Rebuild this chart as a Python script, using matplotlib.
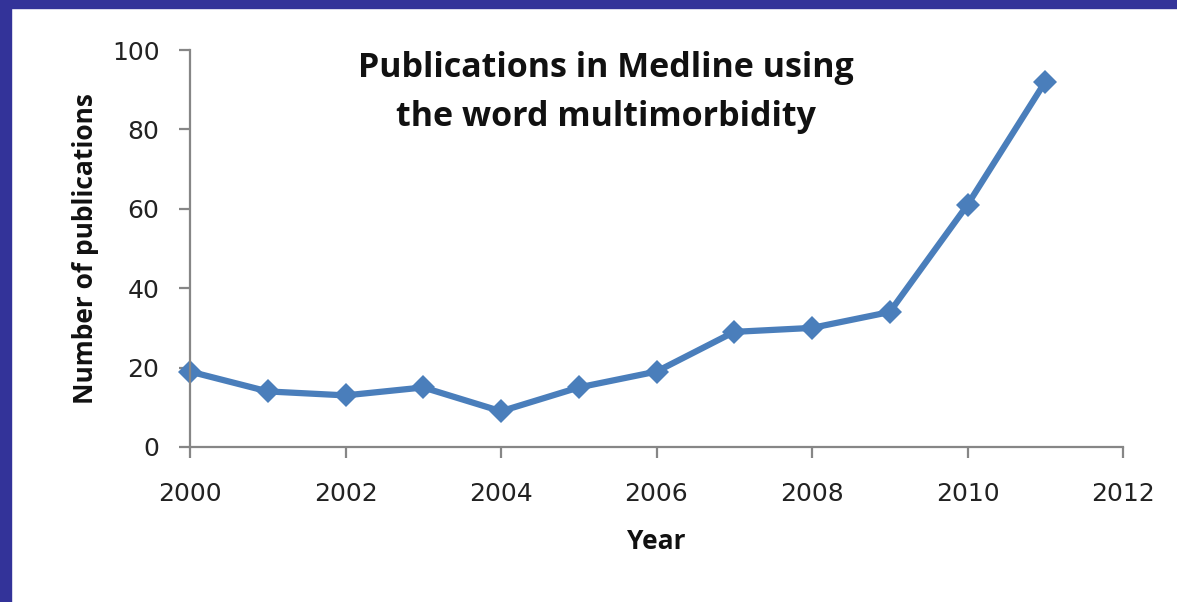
import matplotlib
matplotlib.use("Agg")
import matplotlib.pyplot as plt
from matplotlib.patches import Rectangle

# publications per year
years = [2000, 2001, 2002, 2003, 2004, 2005, 2006, 2007, 2008, 2009, 2010, 2011]
pubs = [19, 14, 13, 15, 9, 15, 19, 29, 30, 34, 61, 92]

x_ticks = [2000, 2002, 2004, 2006, 2008, 2010, 2012]
y_ticks = [0, 20, 40, 60, 80, 100]

LINE_COLOR = '#4a7ebb'
AXIS_COLOR = '#868686'
FRAME_COLOR = '#333399'

plt.rcParams['font.family'] = ['DejaVu Sans']

fig = plt.figure(figsize=(11.77, 6.02), dpi=100)
ax = fig.add_axes([190/1177, 155/602, 933/1177, 397/602])

ax.plot(years, pubs, color=LINE_COLOR, linewidth=4.5,
        marker='D', markersize=12, markeredgewidth=0, clip_on=False)

ax.set_xlim(2000, 2012)
ax.set_ylim(0, 100)
ax.set_xticks(x_ticks)
ax.set_yticks(y_ticks)

for side in ['top', 'right']:
    ax.spines[side].set_visible(False)
for side in ['left', 'bottom']:
    ax.spines[side].set_color(AXIS_COLOR)
    ax.spines[side].set_linewidth(1.6)

ax.tick_params(axis='both', direction='out', length=8, width=1.6,
               color=AXIS_COLOR, labelsize=18, labelcolor='#222222', pad=14)
ax.tick_params(axis='x', pad=17)

label_font = dict(family='Open Sans', weight='bold', size=19, color='#111111')
ax.set_xlabel('Year', **label_font)
ax.set_ylabel('Number of publications', **label_font)
ax.xaxis.set_label_coords(0.5, -0.205)
ax.yaxis.set_label_coords(-0.097, 0.5)

ax.text(0.446, 0.893, 'Publications in Medline using\nthe word multimorbidity',
        transform=ax.transAxes, ha='center', va='center',
        family='Open Sans', weight='bold', size=24.5, linespacing=1.6, color='#111111')

# dark frame along top and left edges
fig.patches.append(Rectangle((0, 0), 11/1177, 1, transform=fig.transFigure,
                             color=FRAME_COLOR, zorder=-1))
fig.patches.append(Rectangle((0, 1 - 8/602), 1, 8/602, transform=fig.transFigure,
                             color=FRAME_COLOR, zorder=-1))

fig.savefig('out.png', dpi=100)
